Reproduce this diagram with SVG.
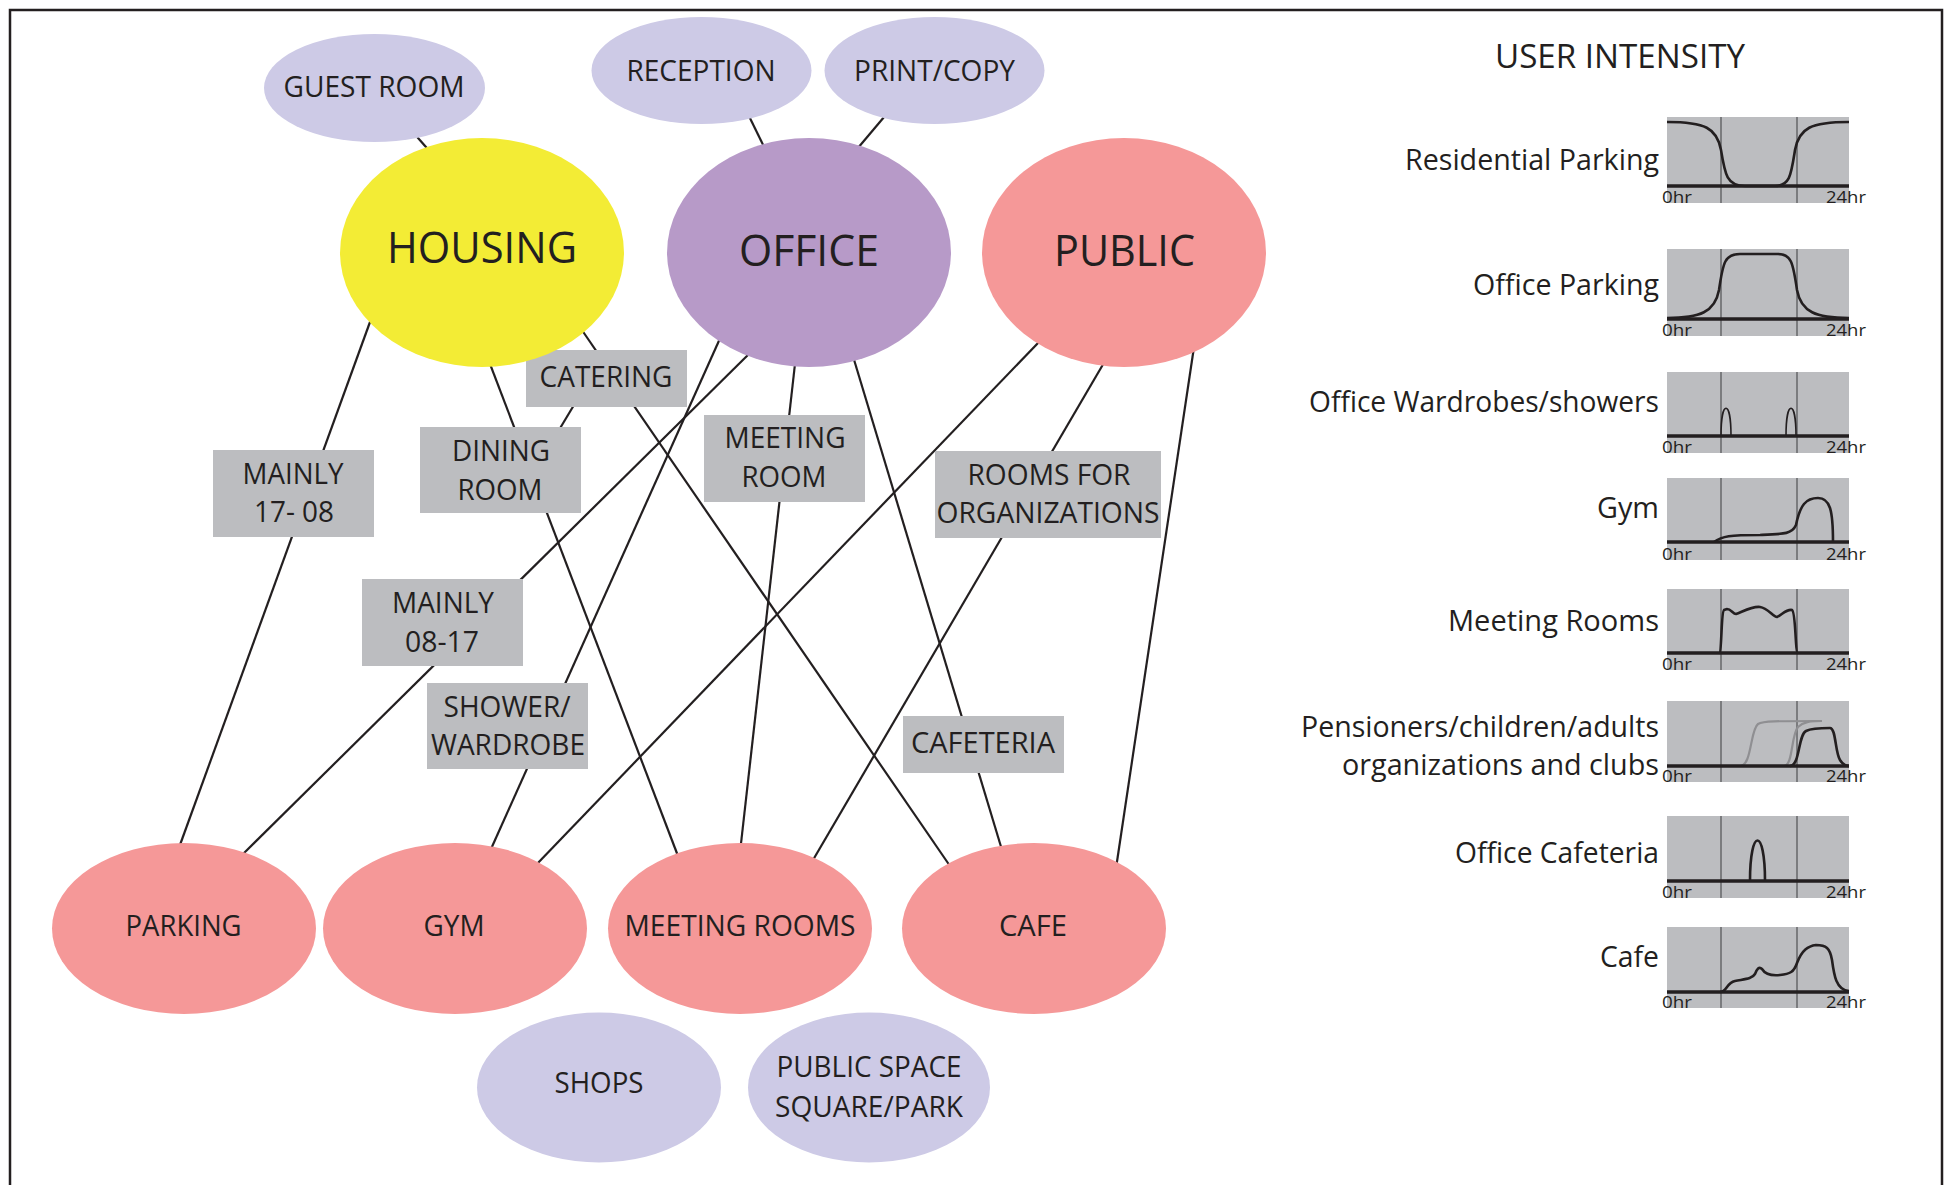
<svg xmlns="http://www.w3.org/2000/svg" width="1954" height="1185" viewBox="0 0 1954 1185">
<style>
text{font-family:"Open Sans","Liberation Sans",Arial,sans-serif;fill:#231f20}
.mid{text-anchor:middle}
.end{text-anchor:end}
.s{font-size:29px}
.b{font-size:43px}
.r{font-size:29px}
.hr{font-size:17px}
.lav{fill:#cdcae6}
.yel{fill:#f3ec35}
.pur{fill:#b79ac8}
.pink{fill:#f59898}
.box{fill:#bcbdc0}
#connectors line{stroke:#231f20;stroke-width:2.2;fill:none}
.chart rect{fill:#bcbdc0}
.div{stroke:#58595b;stroke-width:1.3}
.base{stroke:#231f20;stroke-width:3.6}
.curve{stroke:#231f20;stroke-width:2.6;fill:none}
.thin{stroke:#231f20;stroke-width:1.6;fill:none}
.grey{stroke:#8f8f92;stroke-width:2.2;fill:none}
</style>
<path d="M10,1185 V10 H1942 V1185" fill="none" stroke="#231f20" stroke-width="2.5"/>

<g id="connectors">
<line x1="411" y1="130" x2="433" y2="155"/>
<line x1="746" y1="110" x2="768" y2="155"/>
<line x1="890" y1="110" x2="852" y2="155"/>
<line x1="378" y1="300" x2="179.6" y2="846"/>
<line x1="482" y1="343" x2="678" y2="856"/>
<line x1="575" y1="320" x2="950" y2="866"/>
<line x1="580" y1="395" x2="553" y2="440"/>
<line x1="755" y1="348" x2="242" y2="855"/>
<line x1="722" y1="334" x2="491" y2="849"/>
<line x1="796" y1="355" x2="740.5" y2="848"/>
<line x1="852" y1="353" x2="1002" y2="850"/>
<line x1="1045" y1="335.7" x2="536" y2="865"/>
<line x1="1105" y1="361" x2="813" y2="860"/>
<line x1="1194" y1="347" x2="1116.5" y2="865"/>
</g>

<g id="connector-labels">
<g id="lbl-mainly-17-08"><rect class="box" x="213" y="450" width="161" height="87"/><text class="s mid" x="293" y="484" textLength="101" lengthAdjust="spacingAndGlyphs">MAINLY</text><text class="s mid" x="294" y="522" textLength="80" lengthAdjust="spacingAndGlyphs">17- 08</text></g>
<g id="lbl-dining-room"><rect class="box" x="420" y="427" width="161" height="86"/><text class="s mid" x="501" y="461" textLength="98" lengthAdjust="spacingAndGlyphs">DINING</text><text class="s mid" x="500" y="500" textLength="85" lengthAdjust="spacingAndGlyphs">ROOM</text></g>
<g id="lbl-catering"><rect class="box" x="526" y="350" width="161" height="57"/><text class="s mid" x="606" y="387" textLength="133" lengthAdjust="spacingAndGlyphs">CATERING</text></g>
<g id="lbl-mainly-08-17"><rect class="box" x="362" y="579" width="161" height="87"/><text class="s mid" x="443" y="613" textLength="102" lengthAdjust="spacingAndGlyphs">MAINLY</text><text class="s mid" x="442" y="652" textLength="74" lengthAdjust="spacingAndGlyphs">08-17</text></g>
<g id="lbl-shower"><rect class="box" x="427" y="683" width="161" height="86"/><text class="s mid" x="507" y="717" textLength="127" lengthAdjust="spacingAndGlyphs">SHOWER/</text><text class="s mid" x="508" y="755" textLength="154" lengthAdjust="spacingAndGlyphs">WARDROBE</text></g>
<g id="lbl-meeting-room"><rect class="box" x="704" y="415" width="161" height="87"/><text class="s mid" x="785" y="448" textLength="121" lengthAdjust="spacingAndGlyphs">MEETING</text><text class="s mid" x="784" y="487" textLength="85" lengthAdjust="spacingAndGlyphs">ROOM</text></g>
<g id="lbl-rooms-org"><rect class="box" x="935" y="451" width="226" height="87"/><text class="s mid" x="1049" y="485" textLength="163" lengthAdjust="spacingAndGlyphs">ROOMS FOR</text><text class="s mid" x="1048" y="523" textLength="223" lengthAdjust="spacingAndGlyphs">ORGANIZATIONS</text></g>
<g id="lbl-cafeteria"><rect class="box" x="903" y="716" width="161" height="57"/><text class="s mid" x="983" y="753" textLength="144" lengthAdjust="spacingAndGlyphs">CAFETERIA</text></g>
</g>

<g id="node-guest-room"><ellipse class="lav" cx="374.5" cy="88" rx="110.5" ry="54"/><text class="s mid" x="374" y="97" textLength="181" lengthAdjust="spacingAndGlyphs">GUEST ROOM</text></g>
<g id="node-reception"><ellipse class="lav" cx="701.5" cy="70.5" rx="110" ry="53.5"/><text class="s mid" x="701" y="81" textLength="149" lengthAdjust="spacingAndGlyphs">RECEPTION</text></g>
<g id="node-print-copy"><ellipse class="lav" cx="934.5" cy="70.5" rx="110" ry="53.5"/><text class="s mid" x="934.5" y="81" textLength="161" lengthAdjust="spacingAndGlyphs">PRINT/COPY</text></g>
<g id="node-housing"><ellipse class="yel" cx="482" cy="252.5" rx="142" ry="114.5"/><text class="b mid" x="482" y="263" textLength="190" lengthAdjust="spacingAndGlyphs">HOUSING</text></g>
<g id="node-office"><ellipse class="pur" cx="809" cy="252.5" rx="142" ry="114.5"/><text class="b mid" x="809" y="266" textLength="140" lengthAdjust="spacingAndGlyphs">OFFICE</text></g>
<g id="node-public"><ellipse class="pink" cx="1124" cy="252.5" rx="142" ry="114.5"/><text class="b mid" x="1124.5" y="266" textLength="141" lengthAdjust="spacingAndGlyphs">PUBLIC</text></g>
<g id="node-parking"><ellipse class="pink" cx="184" cy="928.5" rx="132" ry="85.5"/><text class="s mid" x="183.6" y="936" textLength="116" lengthAdjust="spacingAndGlyphs">PARKING</text></g>
<g id="node-gym"><ellipse class="pink" cx="455" cy="928.5" rx="132" ry="85.5"/><text class="s mid" x="454" y="936" textLength="61" lengthAdjust="spacingAndGlyphs">GYM</text></g>
<g id="node-meeting-rooms"><ellipse class="pink" cx="740" cy="928.5" rx="132" ry="85.5"/><text class="s mid" x="740" y="936" textLength="231" lengthAdjust="spacingAndGlyphs">MEETING ROOMS</text></g>
<g id="node-cafe"><ellipse class="pink" cx="1034" cy="928.5" rx="132" ry="85.5"/><text class="s mid" x="1033" y="936" textLength="68" lengthAdjust="spacingAndGlyphs">CAFE</text></g>
<g id="node-shops"><ellipse class="lav" cx="599" cy="1087.5" rx="122" ry="75"/><text class="s mid" x="599" y="1093" textLength="89" lengthAdjust="spacingAndGlyphs">SHOPS</text></g>
<g id="node-public-space"><ellipse class="lav" cx="869" cy="1087.5" rx="121" ry="75"/><text class="s mid" x="869" y="1077" textLength="185" lengthAdjust="spacingAndGlyphs">PUBLIC SPACE</text><text class="s mid" x="869" y="1117" textLength="188" lengthAdjust="spacingAndGlyphs">SQUARE/PARK</text></g>

<g id="user-intensity">
<text class="mid" x="1620" y="68" font-size="33" textLength="250" lengthAdjust="spacingAndGlyphs">USER INTENSITY</text>

<g class="chart" id="chart-residential-parking">
<rect x="1667" y="117" width="182" height="86"/>
<line class="div" x1="1721" y1="117" x2="1721" y2="203"/><line class="div" x1="1797" y1="117" x2="1797" y2="203"/>
<path class="curve" d="M1667,122 C1705,122 1717,128 1721,150 C1725,175 1727,186 1745,186 L1775,186 C1790,186 1791,175 1795,150 C1799,128 1811,122 1849,122"/>
<line class="base" x1="1667" y1="186" x2="1849" y2="186"/>
<text class="hr" x="1662" y="203" textLength="30" lengthAdjust="spacingAndGlyphs">0hr</text><text class="hr end" x="1866" y="203" textLength="40" lengthAdjust="spacingAndGlyphs">24hr</text>
<text class="r end" x="1659" y="170" textLength="254" lengthAdjust="spacingAndGlyphs">Residential Parking</text>
</g>

<g class="chart" id="chart-office-parking">
<rect x="1667" y="249" width="182" height="87"/>
<line class="div" x1="1721" y1="249" x2="1721" y2="336"/><line class="div" x1="1797" y1="249" x2="1797" y2="336"/>
<path class="curve" d="M1667,318 C1700,318 1715,312 1719,290 C1723,262 1725,254 1740,254 L1778,254 C1791,254 1793,262 1797,290 C1801,312 1816,318 1849,318"/>
<line class="base" x1="1667" y1="319" x2="1849" y2="319"/>
<text class="hr" x="1662" y="336" textLength="30" lengthAdjust="spacingAndGlyphs">0hr</text><text class="hr end" x="1866" y="336" textLength="40" lengthAdjust="spacingAndGlyphs">24hr</text>
<text class="r end" x="1659" y="295" textLength="186" lengthAdjust="spacingAndGlyphs">Office Parking</text>
</g>

<g class="chart" id="chart-office-wardrobes">
<rect x="1667" y="372" width="182" height="81"/>
<line class="div" x1="1721" y1="372" x2="1721" y2="453"/><line class="div" x1="1797" y1="372" x2="1797" y2="453"/>
<path class="thin" d="M1721,436 C1721,399 1731,399 1731,436 M1786,436 C1786,399 1796,399 1796,436"/>
<line class="base" x1="1667" y1="436" x2="1849" y2="436"/>
<text class="hr" x="1662" y="453" textLength="30" lengthAdjust="spacingAndGlyphs">0hr</text><text class="hr end" x="1866" y="453" textLength="40" lengthAdjust="spacingAndGlyphs">24hr</text>
<text class="r end" x="1659" y="412" textLength="350" lengthAdjust="spacingAndGlyphs">Office Wardrobes/showers</text>
</g>

<g class="chart" id="chart-gym">
<rect x="1667" y="478" width="182" height="82"/>
<line class="div" x1="1721" y1="478" x2="1721" y2="560"/><line class="div" x1="1797" y1="478" x2="1797" y2="560"/>
<path class="curve" d="M1714,542 C1722,536 1730,535 1760,535 C1785,534 1792,534 1796,525 C1800,505 1806,498 1818,498 C1830,498 1833,510 1833,542"/>
<line class="base" x1="1667" y1="542" x2="1849" y2="542"/>
<text class="hr" x="1662" y="560" textLength="30" lengthAdjust="spacingAndGlyphs">0hr</text><text class="hr end" x="1866" y="560" textLength="40" lengthAdjust="spacingAndGlyphs">24hr</text>
<text class="r end" x="1659" y="518" textLength="62" lengthAdjust="spacingAndGlyphs">Gym</text>
</g>

<g class="chart" id="chart-meeting-rooms">
<rect x="1667" y="589" width="182" height="81"/>
<line class="div" x1="1721" y1="589" x2="1721" y2="670"/><line class="div" x1="1797" y1="589" x2="1797" y2="670"/>
<path class="curve" d="M1719,653 C1722,653 1721,612 1724,610 L1727,609 C1731,609 1733,614 1736,614 C1742,612 1752,606 1760,607 C1768,608 1773,617 1777,617 C1782,615 1786,609 1792,610 C1796,612 1795,653 1798,653"/>
<line class="base" x1="1667" y1="653" x2="1849" y2="653"/>
<text class="hr" x="1662" y="670" textLength="30" lengthAdjust="spacingAndGlyphs">0hr</text><text class="hr end" x="1866" y="670" textLength="40" lengthAdjust="spacingAndGlyphs">24hr</text>
<text class="r end" x="1659" y="631" textLength="211" lengthAdjust="spacingAndGlyphs">Meeting Rooms</text>
</g>

<g class="chart" id="chart-pensioners">
<rect x="1667" y="701" width="182" height="81"/>
<line class="div" x1="1721" y1="701" x2="1721" y2="782"/><line class="div" x1="1797" y1="701" x2="1797" y2="782"/>
<path class="grey" d="M1740,766 C1752,766 1750,730 1758,724 C1763,721 1775,721 1822,721"/>
<path class="grey" d="M1784,766 C1793,766 1791,735 1798,727 C1803,722 1810,721 1822,721"/>
<path class="curve" d="M1790,766 C1800,766 1798,735 1806,731 C1812,728 1820,728 1830,728 C1836,728 1835,752 1840,760 C1843,765 1847,766 1849,766"/>
<line class="base" x1="1667" y1="766" x2="1849" y2="766"/>
<text class="hr" x="1662" y="782" textLength="30" lengthAdjust="spacingAndGlyphs">0hr</text><text class="hr end" x="1866" y="782" textLength="40" lengthAdjust="spacingAndGlyphs">24hr</text>
<text class="r end" x="1659" y="737" textLength="358" lengthAdjust="spacingAndGlyphs">Pensioners/children/adults</text>
<text class="r end" x="1659" y="775" textLength="317" lengthAdjust="spacingAndGlyphs">organizations and clubs</text>
</g>

<g class="chart" id="chart-office-cafeteria">
<rect x="1667" y="816" width="182" height="82"/>
<line class="div" x1="1721" y1="816" x2="1721" y2="898"/><line class="div" x1="1797" y1="816" x2="1797" y2="898"/>
<path class="curve" d="M1750,881 C1750,827 1765,827 1765,881"/>
<line class="base" x1="1667" y1="881" x2="1849" y2="881"/>
<text class="hr" x="1662" y="898" textLength="30" lengthAdjust="spacingAndGlyphs">0hr</text><text class="hr end" x="1866" y="898" textLength="40" lengthAdjust="spacingAndGlyphs">24hr</text>
<text class="r end" x="1659" y="863" textLength="204" lengthAdjust="spacingAndGlyphs">Office Cafeteria</text>
</g>

<g class="chart" id="chart-cafe">
<rect x="1667" y="927" width="182" height="81"/>
<line class="div" x1="1721" y1="927" x2="1721" y2="1008"/><line class="div" x1="1797" y1="927" x2="1797" y2="1008"/>
<path class="curve" d="M1720,992 C1727,992 1726,983 1735,981 C1745,979 1752,979 1755,974 C1757,969 1759,966 1762,969 C1765,974 1770,976 1780,975 C1790,974 1794,972 1797,963 C1802,950 1808,946 1816,945 C1826,945 1830,948 1832,960 C1834,975 1836,990 1849,991"/>
<line class="base" x1="1667" y1="992" x2="1849" y2="992"/>
<text class="hr" x="1662" y="1008" textLength="30" lengthAdjust="spacingAndGlyphs">0hr</text><text class="hr end" x="1866" y="1008" textLength="40" lengthAdjust="spacingAndGlyphs">24hr</text>
<text class="r end" x="1659" y="967" textLength="59" lengthAdjust="spacingAndGlyphs">Cafe</text>
</g>
</g>
</svg>
